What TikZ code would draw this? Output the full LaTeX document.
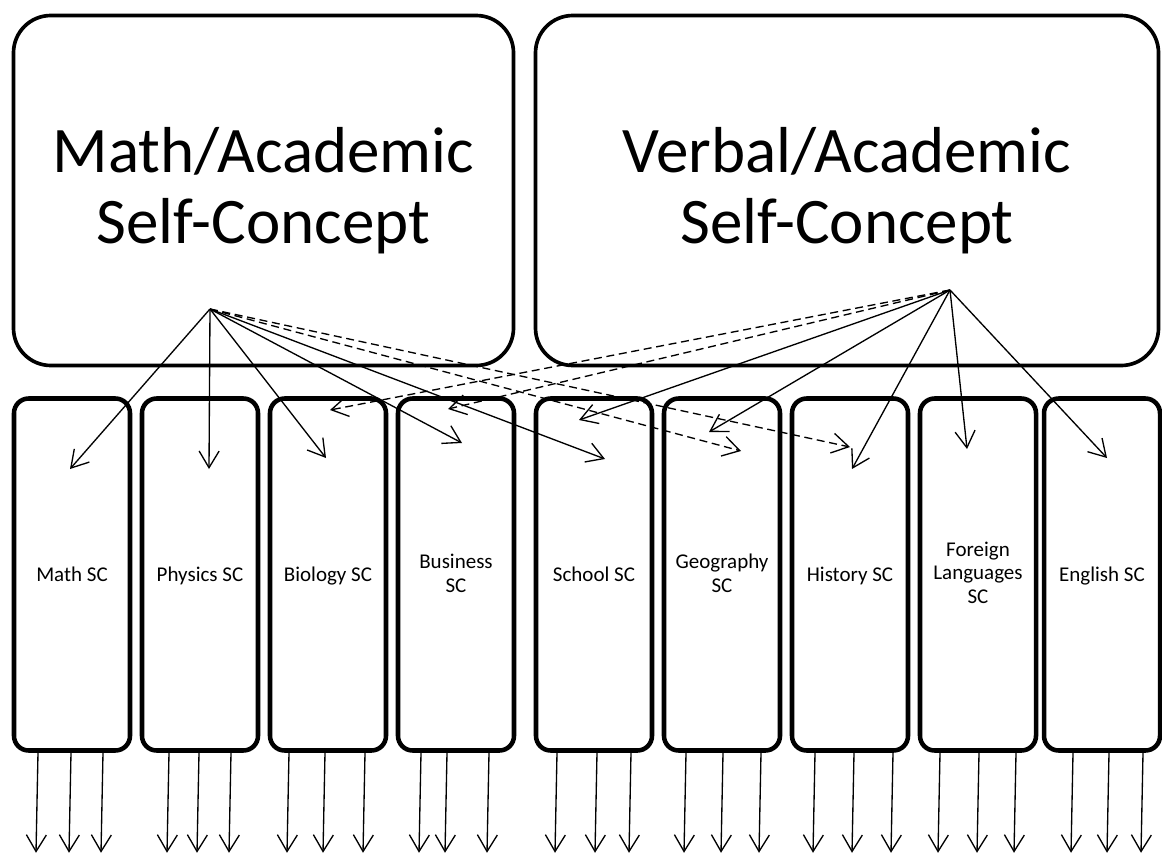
\documentclass[tikz,border=0pt]{standalone}
\usepackage{fontspec}
\setmainfont{Carlito}
\usetikzlibrary{arrows.meta,calc}
% one centred line of a label
\newcommand{\lineof}[1]{\hbox{\makebox[0pt]{#1}}}
% stack of lines whose last baseline sits #1 below the node centre
\newcommand{\stackdown}[2]{\raisebox{-#1}[0pt][0pt]{\vbox{#2}}}
\begin{document}
\begin{tikzpicture}[x=0.75pt,y=-0.75pt,
  bigbox/.style={draw,line width=2.75pt,rounded corners=28pt,minimum height=262.5pt,
    inner sep=0pt,font=\fontsize{48.75pt}{53.25pt}\selectfont},
  subbox/.style={draw,line width=3.4pt,rounded corners=11pt,minimum width=87pt,
    minimum height=264pt,inner sep=0pt,
    font=\fontsize{15.75pt}{17.6pt}\selectfont},
  link/.style={line width=1pt,-{Straight Barb[length=12.5pt,width=15pt]}},
  cross/.style={link,dash pattern=on 6pt off 3.5pt}]

\useasboundingbox (0,0) rectangle (1162,853);
\fill[white] (0,0) rectangle (1162,853);

% second-order factors
\node[bigbox,minimum width=375pt] (math) at (263.5,190.5)
  {\stackdown{40.1pt}{\lineof{Math/Academic}\lineof{Self-Concept}}};
\node[bigbox,minimum width=467.25pt] (verbal) at (847,190.5)
  {\stackdown{40.1pt}{\lineof{Verbal/Academic}\lineof{Self-Concept}}};

% first-order factors
\node[subbox] (mathsc) at (72,574.5)   {\stackdown{4.9pt}{\lineof{Math SC}}};
\node[subbox] (phys)   at (200,574.5)  {\stackdown{4.9pt}{\lineof{Physics SC}}};
\node[subbox] (bio)    at (328,574.5)  {\stackdown{4.9pt}{\lineof{Biology SC}}};
\node[subbox] (bus)    at (456,574.5)  {\stackdown{13.3pt}{\lineof{Business}\lineof{SC}}};
\node[subbox] (school) at (594,574.5)  {\stackdown{4.9pt}{\lineof{School SC}}};
\node[subbox] (geo)    at (722,574.5)  {\stackdown{13.3pt}{\lineof{Geography}\lineof{SC}}};
\node[subbox] (hist)   at (850,574.5)  {\stackdown{4.9pt}{\lineof{History SC}}};
\node[subbox] (lang)   at (978,574.5)  {\stackdown{21.7pt}{\lineof{Foreign}\lineof{Languages}\lineof{SC}}};
\node[subbox] (eng)    at (1102,574.5) {\stackdown{4.9pt}{\lineof{English SC}}};

% loading origins
\coordinate (msrc) at (210,309);
\coordinate (vsrc) at (950,290);

% arrow ends inside the first-order boxes
\coordinate (m1) at (70,469);
\coordinate (m2) at (209,469);
\coordinate (m3) at (326,458);
\coordinate (m4) at (462,443);
\coordinate (m5) at (605,459);
\coordinate (m6) at (741,451);
\coordinate (m7) at (850,447);
\coordinate (v1) at (1107,458);
\coordinate (v2) at (967,449);
\coordinate (v3) at (852,469);
\coordinate (v4) at (709,432);
\coordinate (v5) at (579,420);
\coordinate (v6) at (448,409);
\coordinate (v7) at (330,410);

% math/academic loadings
\draw[link] (msrc) -- (m1);
\draw[link] (msrc) -- (m2);
\draw[link] (msrc) -- (m3);
\draw[link] (msrc) -- (m4);
\draw[link] (msrc) -- (m5);
\draw[cross] (msrc) -- (m6);
\draw[cross] (msrc) -- (m7);

% verbal/academic loadings
\draw[link] (vsrc) -- (v1);
\draw[link] (vsrc) -- (v2);
\draw[link] (vsrc) -- (v3);
\draw[link] (vsrc) -- (v4);
\draw[link] (vsrc) -- (v5);
\draw[cross] (vsrc) -- (v6);
\draw[cross] (vsrc) -- (v7);

% item indicators below each first-order box
\foreach \b/\a/\c/\d in {mathsc/-34/-1/31, phys/-31/-1/31, bio/-39/-3/37,
    bus/-35/-9/33, school/-37/3/37, geo/-36/1/39, hist/-35/4/43,
    lang/-38/1/38, eng/-29/7/41}{
  \foreach \dx in {\a,\c,\d}{
    \draw[link] ($(\b.south)+(\dx,0)$) -- ++(-2,100);
  }
}
\end{tikzpicture}
\end{document}
